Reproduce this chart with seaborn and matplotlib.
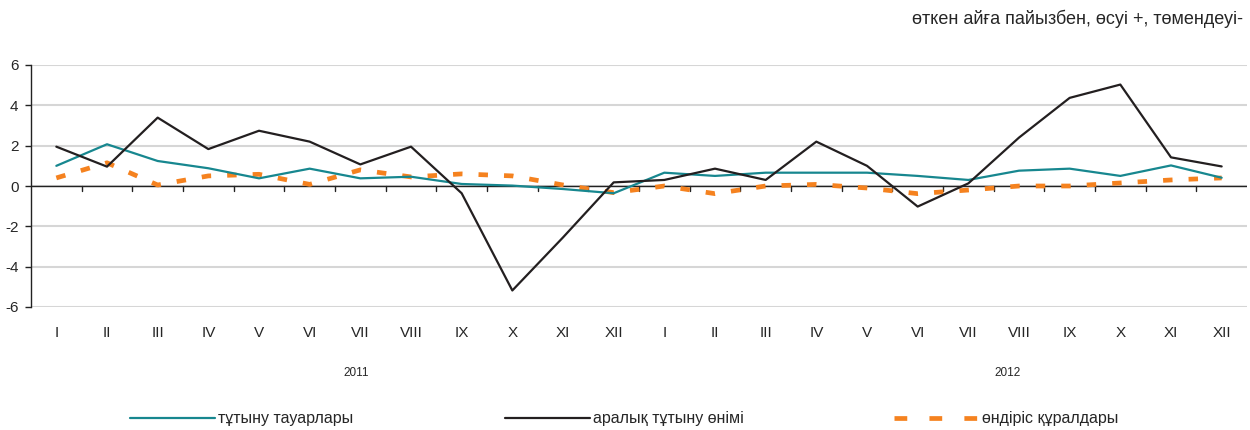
import matplotlib
matplotlib.use("Agg")
import matplotlib.pyplot as plt
import seaborn as sns
import pandas as pd
import numpy as np
from matplotlib.lines import Line2D

months = ["I", "II", "III", "IV", "V", "VI", "VII", "VIII", "IX", "X", "XI", "XII"]
years = ["2011", "2012"]
consumer_goods = [1.0, 2.07, 1.24, 0.88, 0.38, 0.86, 0.38, 0.46, 0.1, 0.02, -0.15, -0.36,
                  0.66, 0.5, 0.66, 0.66, 0.66, 0.5, 0.3, 0.76, 0.86, 0.5, 1.02, 0.41]
intermediate_goods = [1.95, 0.96, 3.39, 1.83, 2.74, 2.2, 1.07, 1.95, -0.36, -5.18, -2.55, 0.18,
                      0.3, 0.86, 0.3, 2.2, 1.0, -1.02, 0.13, 2.4, 4.37, 5.03, 1.42, 0.97]
capital_goods = [0.4, 1.15, 0.05, 0.5, 0.58, 0.08, 0.8, 0.45, 0.6, 0.5, 0.05, -0.33,
                 0.0, -0.38, 0.0, 0.08, -0.1, -0.38, -0.2, 0.0, 0.0, 0.15, 0.3, 0.4]
series_names = ["тұтыну тауарлары", "аралық тұтыну өнімі", "өндіріс құралдары"]
unit_note = "өткен айға пайызбен, өсуі +, төмендеуі-"

labels = months * 2
x = np.arange(len(labels))
df = pd.DataFrame({"x": np.concatenate([x, x, x]),
                   "value": consumer_goods + intermediate_goods + capital_goods,
                   "series": np.repeat(series_names, len(x))})

sns.set_theme(style="white")
plt.rcParams["font.family"] = ["Liberation Sans", "DejaVu Sans"]

TEAL = "#17878f"
BLACK = "#231f20"
ORANGE = "#f5821f"
TXT = "#262626"
DASH_LW = 3.4

fig = plt.figure(figsize=(12.5, 4.3), dpi=100)
ax = fig.add_axes([31 / 1250, 1 - 307 / 430, (1247 - 31) / 1250, (307 - 65) / 430])

sns.lineplot(data=df[df.series == series_names[2]], x="x", y="value", ax=ax,
             color=ORANGE, linewidth=DASH_LW, legend=False, zorder=2)
ax.lines[-1].set_linestyle((0, (2.0, 3.4)))
sns.lineplot(data=df[df.series == series_names[0]], x="x", y="value", ax=ax,
             color=TEAL, linewidth=1.6, legend=False, zorder=3)
sns.lineplot(data=df[df.series == series_names[1]], x="x", y="value", ax=ax,
             color=BLACK, linewidth=1.6, legend=False, zorder=4)

ax.set_xlim(-0.5, 23.5)
ax.set_ylim(-6, 6)
ax.set_yticks([-6, -4, -2, 0, 2, 4, 6])
ax.set_yticklabels(["-6", "-4", "-2", "0", "2", "4", "6"], fontsize=11, color=TXT)
ax.yaxis.grid(True, color="#d6d6d6", linewidth=1.5)
ax.set_axisbelow(True)
for s in ["top", "right", "bottom"]:
    ax.spines[s].set_visible(False)
ax.spines["left"].set_color("#222222")
ax.spines["left"].set_linewidth(1.0)
ax.tick_params(axis="y", which="both", left=True, length=4, width=1, color="#222222", pad=5)
ax.axhline(0, color="#222222", linewidth=1.0, zorder=1.5)

ax.set_xticks(x)
ax.set_xticklabels(labels, fontsize=11, color=TXT)
ax.tick_params(axis="x", bottom=False, pad=8)
for b in np.arange(0.5, 23.5, 1.0):
    ax.plot([b, b], [0, -0.25], color="#222222", linewidth=1.0, zorder=1.5, clip_on=False)
ax.set_xlabel("")
ax.set_ylabel("")

fig.text(356 / 1250, 1 - 373 / 430, years[0], fontsize=8.5, ha="center", va="center", color=TXT)
fig.text(1008 / 1250, 1 - 373 / 430, years[1], fontsize=8.5, ha="center", va="center", color=TXT)
fig.text(1243 / 1250, 1 - 19 / 430, unit_note, fontsize=13, ha="right", va="center", color=TXT)

handles = [Line2D([], [], color=TEAL, linewidth=1.6),
           Line2D([], [], color=BLACK, linewidth=1.6),
           Line2D([], [], color=ORANGE, linewidth=DASH_LW, linestyle=(0, (2.7, 4.7)))]
xs = [130, 505, 894]
for h, name, xp in zip(handles, series_names, xs):
    fig.legend([h], [name], loc="center left", bbox_to_anchor=(xp / 1250, 1 - 419 / 430),
               frameon=False, fontsize=11.5, handlelength=5.3, handletextpad=0.2,
               borderaxespad=0, borderpad=0, labelcolor=TXT)

fig.savefig("out.png", dpi=100)
